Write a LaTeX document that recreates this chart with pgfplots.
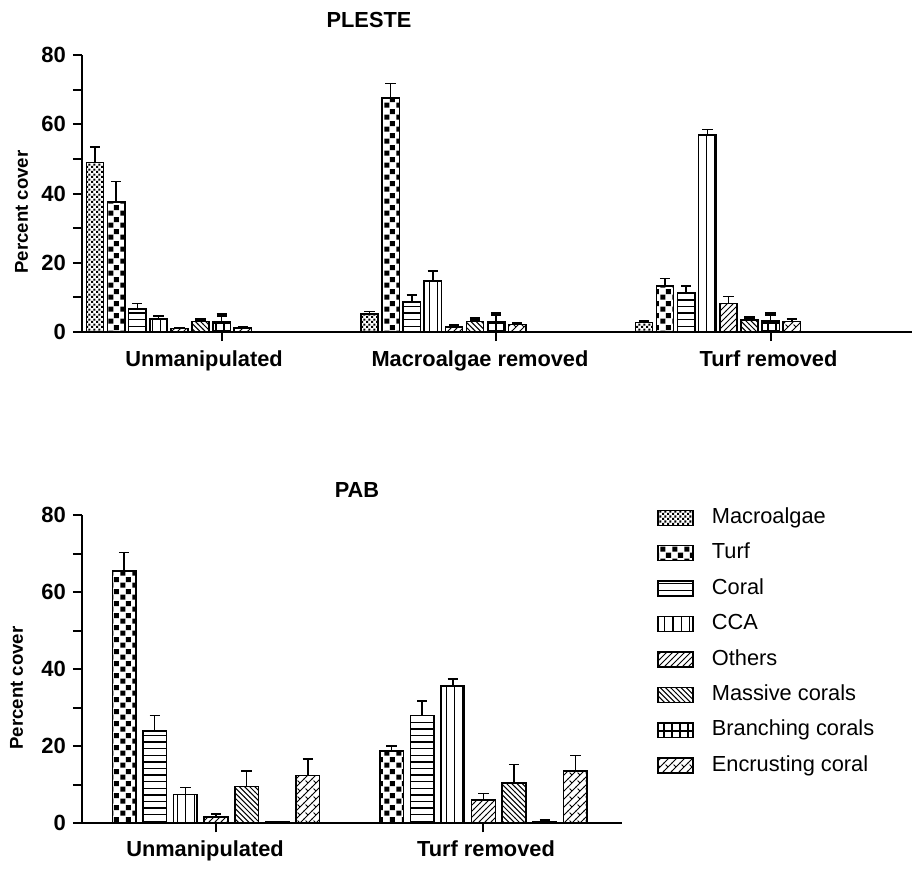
\documentclass[border=0pt]{standalone}
\usepackage{fontspec}
\setmainfont{Liberation Sans}
\usepackage{pgfplots}
\pgfplotsset{compat=1.18}
\usetikzlibrary{patterns}

% ---------- patterns ----------
\pgfdeclarepatternformonly{finecheck}{\pgfqpoint{0pt}{0pt}}{\pgfqpoint{2.4pt}{2.4pt}}{\pgfqpoint{2.4pt}{2.4pt}}{%
  \pgfpathrectangle{\pgfqpoint{0pt}{0pt}}{\pgfqpoint{1.1pt}{1.1pt}}%
  \pgfpathrectangle{\pgfqpoint{1.2pt}{1.2pt}}{\pgfqpoint{1.1pt}{1.1pt}}%
  \pgfusepath{fill}}
\pgfdeclarepatternformonly{coarsecheck}{\pgfqpoint{0pt}{0pt}}{\pgfqpoint{6pt}{6pt}}{\pgfqpoint{6pt}{6pt}}{%
  \pgfpathrectangle{\pgfqpoint{0.15pt}{0.15pt}}{\pgfqpoint{2.7pt}{2.7pt}}%
  \pgfpathrectangle{\pgfqpoint{3.15pt}{3.15pt}}{\pgfqpoint{2.7pt}{2.7pt}}%
  \pgfusepath{fill}}
\pgfdeclarepatternformonly{hl}{\pgfqpoint{0pt}{0pt}}{\pgfqpoint{100pt}{1pt}}{\pgfqpoint{100pt}{3.3pt}}{%
  \pgfsetlinewidth{0.7pt}%
  \pgfpathmoveto{\pgfqpoint{0pt}{0.5pt}}\pgfpathlineto{\pgfqpoint{100pt}{0.5pt}}\pgfusepath{stroke}}
\pgfdeclarepatternformonly{vl}{\pgfqpoint{0pt}{0pt}}{\pgfqpoint{1pt}{100pt}}{\pgfqpoint{4.2pt}{100pt}}{%
  \pgfsetlinewidth{0.6pt}%
  \pgfpathmoveto{\pgfqpoint{0.5pt}{0pt}}\pgfpathlineto{\pgfqpoint{0.5pt}{100pt}}\pgfusepath{stroke}}
\pgfdeclarepatternformonly{nel}{\pgfqpoint{-1pt}{-1pt}}{\pgfqpoint{4pt}{4pt}}{\pgfqpoint{3pt}{3pt}}{%
  \pgfsetlinewidth{0.5pt}%
  \pgfpathmoveto{\pgfqpoint{0pt}{0pt}}\pgfpathlineto{\pgfqpoint{3.1pt}{3.1pt}}\pgfusepath{stroke}}
\pgfdeclarepatternformonly{nwl}{\pgfqpoint{-1pt}{-1pt}}{\pgfqpoint{4pt}{4pt}}{\pgfqpoint{2.6pt}{2.6pt}}{%
  \pgfsetlinewidth{0.5pt}%
  \pgfpathmoveto{\pgfqpoint{0pt}{2.6pt}}\pgfpathlineto{\pgfqpoint{2.7pt}{-0.1pt}}\pgfusepath{stroke}}
\pgfdeclarepatternformonly{gridp}{\pgfqpoint{-1pt}{-1pt}}{\pgfqpoint{5pt}{5pt}}{\pgfqpoint{4pt}{4pt}}{%
  \pgfsetlinewidth{0.55pt}%
  \pgfpathmoveto{\pgfqpoint{0pt}{0pt}}\pgfpathlineto{\pgfqpoint{4.1pt}{0pt}}%
  \pgfpathmoveto{\pgfqpoint{0pt}{0pt}}\pgfpathlineto{\pgfqpoint{0pt}{4.1pt}}\pgfusepath{stroke}}
\pgfdeclarepatternformonly{dbrick}{\pgfqpoint{-1pt}{-1pt}}{\pgfqpoint{5pt}{5pt}}{\pgfqpoint{4pt}{4pt}}{%
  \pgfsetlinewidth{0.5pt}%
  \pgfpathmoveto{\pgfqpoint{-0.1pt}{-0.1pt}}\pgfpathlineto{\pgfqpoint{4.1pt}{4.1pt}}%
  \pgfpathmoveto{\pgfqpoint{2pt}{2pt}}\pgfpathlineto{\pgfqpoint{0.8pt}{3.2pt}}\pgfusepath{stroke}}

\pgfplotsset{
  legimg/.style={legend image code/.code={\draw[##1] (0pt,-3.75pt) rectangle (17.5pt,3.75pt);}},
  barbase/.style={draw=black, line width=0.75pt, legimg},
  mac/.style={barbase, pattern=finecheck},
  turf/.style={barbase, pattern=coarsecheck},
  coral/.style={barbase, pattern=hl},
  cca/.style={barbase, pattern=vl},
  oth/.style={barbase, pattern=nel},
  mass/.style={barbase, pattern=nwl},
  bran/.style={barbase, pattern=gridp},
  encr/.style={barbase, pattern=dbrick},
  eb/.style={error bars/y dir=plus, error bars/y explicit, error bars/error mark=-,
     error bars/error bar style={line width=0.75pt, black},
     error bars/error mark options={rotate=90, line width=0.75pt, mark size=2.6pt, black}},
  ebthick/.style={error bars/y dir=plus, error bars/y explicit, error bars/error mark=-,
     error bars/error bar style={line width=0.75pt, black},
     error bars/error mark options={rotate=90, line width=2pt, mark size=2.6pt, black}},
  basestyle/.style={
    scale only axis, ybar,
    axis x line=bottom, axis y line=left,
    axis line style={line width=1pt, -},
    ymin=0, ymax=80, ytick={0,20,40,60,80}, minor ytick={10,30,50,70},
    tick align=outside, major tick length=4.5pt, minor tick length=4.5pt,
    tick style={line width=1pt, black},
    xtick={0,1,2}, xticklabels={},
    /pgf/number format/assume math mode=true,
    yticklabel style={font=\bfseries\fontsize{11}{13}\selectfont},
    clip=false,
  },
}

\begin{document}
\begin{tikzpicture}
\useasboundingbox (0pt,0pt) rectangle (458pt,-437.5pt);

% ---------------- PLESTE ----------------
\begin{axis}[basestyle, at={(41pt,-166pt)}, anchor=south west,
  width=415pt, height=138.5pt, xmin=-0.509, xmax=2.515, bar width=0.0628]
\addplot[mac, eb, bar shift=-0.4614] coordinates {(0,49.0) +- (0,4.5) (1,5.2) +- (0,0.7) (2,2.7) +- (0,0.5)};
\addplot[turf, eb, bar shift=-0.3845] coordinates {(0,37.5) +- (0,6.0) (1,67.6) +- (0,4.2) (2,13.3) +- (0,2.2)};
\addplot[coral, eb, bar shift=-0.3076] coordinates {(0,6.7) +- (0,1.6) (1,8.6) +- (0,2.1) (2,11.3) +- (0,2.0)};
\addplot[cca, eb, bar shift=-0.2307] coordinates {(0,3.8) +- (0,0.8) (1,14.7) +- (0,2.9) (2,56.9) +- (0,1.6)};
\addplot[oth, eb, bar shift=-0.1538] coordinates {(0,1.0) +- (0,0.3) (1,1.5) +- (0,0.5) (2,8.3) +- (0,1.9)};
\addplot[mass, ebthick, bar shift=-0.0769] coordinates {(0,3.0) +- (0,0.6) (1,3.0) +- (0,0.9) (2,3.5) +- (0,0.6)};
\addplot[bran, ebthick, bar shift=0] coordinates {(0,3.0) +- (0,1.8) (1,3.0) +- (0,2.2) (2,3.2) +- (0,2.0)};
\addplot[encr, eb, bar shift=0.0769] coordinates {(0,1.2) +- (0,0.3) (1,2.2) +- (0,0.4) (2,3.0) +- (0,0.8)};
\end{axis}

% ---------------- PAB ----------------
\begin{axis}[basestyle, at={(41pt,-411.65pt)}, anchor=south west,
  width=270pt, height=154.15pt, xmin=-0.501, xmax=1.518, bar width=0.0885, xtick={0,1},
  legend cell align=left,
  legend style={at={(axis description cs:1.0648,1.0247)}, anchor=north west,
    draw=none, fill=none, inner sep=0pt, row sep=7.7pt,
    font=\fontsize{10.9}{13}\selectfont,
    nodes={inner sep=0pt, text height=7.8pt, text depth=2.2pt},
    /tikz/every odd column/.append style={column sep=9pt}}]
\addlegendimage{mac}
\addplot[turf, eb, bar shift=-0.3435] coordinates {(0,65.5) +- (0,4.8) (1,18.8) +- (0,1.3)};
\addplot[coral, eb, bar shift=-0.229] coordinates {(0,24.0) +- (0,4.0) (1,28.0) +- (0,3.8)};
\addplot[cca, eb, bar shift=-0.1145] coordinates {(0,7.5) +- (0,1.8) (1,35.6) +- (0,1.8)};
\addplot[oth, eb, bar shift=0] coordinates {(0,1.6) +- (0,0.8) (1,6.0) +- (0,1.8)};
\addplot[mass, eb, bar shift=0.1145] coordinates {(0,9.5) +- (0,4.1) (1,10.5) +- (0,4.8)};
\addplot[bran, eb, bar shift=0.229] coordinates {(0,0.3) +- (0,0.2) (1,0.5) +- (0,0.4)};
\addplot[encr, eb, bar shift=0.3435] coordinates {(0,12.4) +- (0,4.3) (1,13.6) +- (0,4.0)};
\legend{Macroalgae,Turf,Coral,CCA,Others,Massive corals,Branching corals,Encrusting coral}
\end{axis}

% ---------------- texts ----------------
\begin{scope}[every node/.style={font=\bfseries\fontsize{10.9}{13}\selectfont, anchor=base, inner sep=0pt}]
\node at (184.5pt,-13.65pt) {PLESTE};
\node at (178.5pt,-248.5pt) {PAB};
\node at (102pt,-183.35pt) {Unmanipulated};
\node at (240pt,-183.35pt) {Macroalgae removed};
\node at (384.25pt,-183.35pt) {Turf removed};
\node at (102.5pt,-428pt) {Unmanipulated};
\node at (243pt,-428pt) {Turf removed};
\end{scope}
\node[font=\bfseries\fontsize{9.3}{11}\selectfont, rotate=90, inner sep=0pt] at (10.75pt,-106pt) {Percent cover};
\node[font=\bfseries\fontsize{9.3}{11}\selectfont, rotate=90, inner sep=0pt] at (8.25pt,-344pt) {Percent cover};
\end{tikzpicture}
\end{document}
